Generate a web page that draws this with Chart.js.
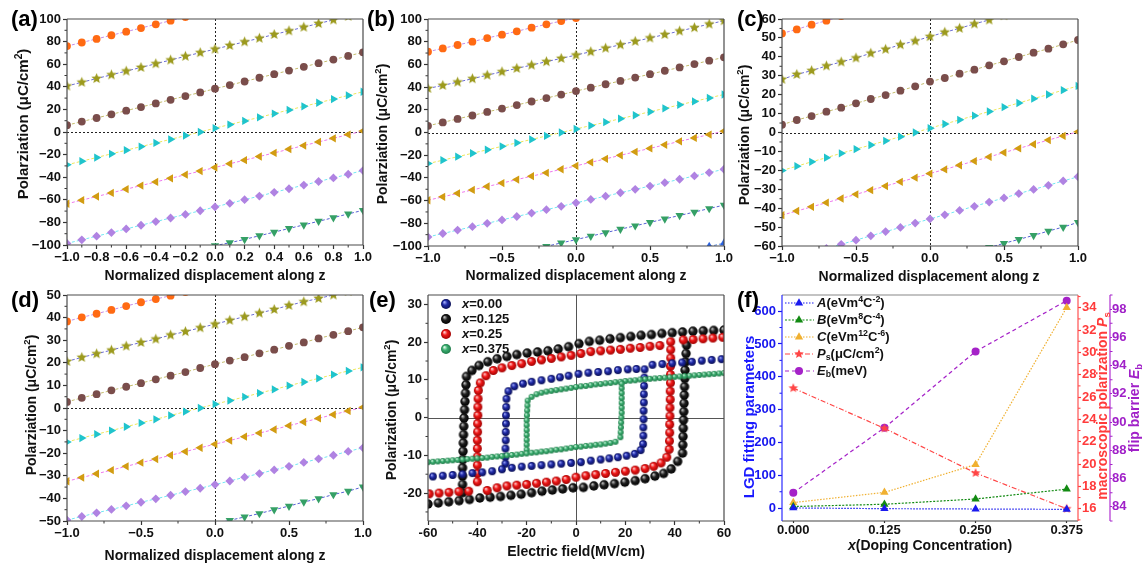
<!DOCTYPE html>
<html>
<head>
<meta charset="utf-8">
<script src="https://cdn.jsdelivr.net/npm/chart.js@4.4.1/dist/chart.umd.min.js"></script>
<style>
  body { margin:0; background:#fff; width:1145px; height:565px; position:relative; overflow:hidden; font-family:'Liberation Sans', Arial, sans-serif; }
  canvas { position:absolute; }
  .lbl { position:absolute; font-weight:bold; font-size:22px; line-height:1; color:#000; z-index:2; }
</style>
</head>
<body>
<canvas id="pa" width="375" height="285" style="left:0;top:0"></canvas>
<canvas id="pb" width="368" height="285" style="left:372px;top:0"></canvas>
<canvas id="pc" width="409" height="285" style="left:736px;top:0"></canvas>
<canvas id="pd" width="375" height="280" style="left:0;top:285px"></canvas>
<canvas id="pe" width="368" height="280" style="left:372px;top:285px"></canvas>
<canvas id="pf" width="409" height="280" style="left:736px;top:285px"></canvas>
<div class="lbl" style="left:11px;top:8px">(a)</div>
<div class="lbl" style="left:367px;top:8px">(b)</div>
<div class="lbl" style="left:737px;top:8px">(c)</div>
<div class="lbl" style="left:11px;top:289px">(d)</div>
<div class="lbl" style="left:369px;top:289px">(e)</div>
<div class="lbl" style="left:737px;top:289px">(f)</div>
<script>
// ---------- data ----------
const _ = null;
const zPos = [-1.0, -0.9, -0.8, -0.7, -0.6, -0.5, -0.4, -0.3, -0.2, -0.1, 0.0, 0.1, 0.2, 0.3, 0.4, 0.5, 0.6, 0.7, 0.8, 0.9, 1.0];

// (a)
const aOrange = [76.0, 79.2, 82.4, 85.6, 88.8, 92.0, 95.3, 98.5, 101.7, _, _, _, _, _, _, _, _, _, _, _, _];
const aStar   = [40.7, 44.0, 47.3, 50.6, 53.9, 57.1, 60.4, 63.7, 67.0, 70.2, 73.3, 76.6, 79.8, 83.0, 86.3, 89.5, 92.8, 96.0, 99.2, 102.4, _];
const aBrown  = [6.0, 9.2, 12.4, 15.6, 18.9, 22.1, 25.3, 28.5, 31.8, 35.0, 38.3, 41.5, 44.7, 48.0, 51.2, 54.4, 57.7, 60.9, 64.1, 67.3, 70.5];
const aCyan   = [-29.0, -25.8, -22.6, -19.3, -16.1, -12.9, -9.7, -6.5, -3.2, 0.0, 3.4, 6.6, 9.8, 13.0, 16.3, 19.5, 22.7, 25.9, 29.1, 32.4, 35.6];
const aGold   = [-63.5, -60.3, -57.1, -53.9, -50.6, -47.4, -44.2, -41.0, -37.8, -34.6, -31.4, -28.1, -24.9, -21.7, -18.5, -15.2, -12.0, -8.8, -5.6, -2.3, 0.9];
const aPurple = [-98.6, -95.4, -92.2, -89.0, -85.8, -82.5, -79.3, -76.1, -72.9, -69.7, -66.3, -63.1, -59.9, -56.7, -53.4, -50.2, -47.0, -43.8, -40.6, -37.4, -34.1];
const aGreen  = [_, _, _, _, _, _, _, _, _, -103.8, -100.6, -98.0, -95.0, -91.8, -88.6, -85.4, -82.2, -79.0, -75.8, -72.5, -69.3];

// (b)
const bOrange = [71.2, 74.1, 77.1, 80.0, 83.2, 86.2, 89.1, 92.4, 95.3, 98.2, 100.8, _, _, _, _, _, _, _, _, _, _];
const bStar   = [38.8, 41.5, 44.4, 47.4, 50.5, 53.5, 56.5, 59.4, 62.4, 65.3, 68.2, 71.2, 74.3, 77.3, 80.3, 83.3, 86.3, 89.4, 92.4, 95.5, 98.5];
const bBrown  = [5.9, 8.9, 12.0, 15.0, 18.1, 21.1, 24.2, 27.3, 30.3, 33.4, 36.5, 39.5, 42.5, 45.4, 48.4, 51.4, 54.4, 57.3, 60.3, 63.3, 66.2];
const bCyan   = [-27.4, -24.4, -21.3, -18.3, -15.2, -12.2, -9.1, -6.1, -3.0, 0.0, 3.1, 6.1, 9.1, 12.2, 15.2, 18.3, 21.3, 24.4, 27.4, 30.5, 33.5];
const bGold   = [-59.7, -56.7, -53.6, -50.6, -47.6, -44.6, -41.5, -38.5, -35.5, -32.4, -29.4, -26.3, -23.2, -20.1, -17.0, -14.0, -10.9, -7.8, -4.8, -1.8, 1.2];
const bPurple = [-92.0, -89.0, -86.0, -83.0, -80.0, -77.0, -74.0, -71.0, -68.0, -65.0, -62.0, -59.0, -56.1, -53.1, -50.1, -47.2, -44.2, -41.2, -38.3, -35.3, -32.4];
const bGreen  = [_, _, _, _, _, _, _, -103.3, -100.3, -97.3, -94.4, -91.3, -88.3, -85.2, -82.2, -79.2, -76.1, -73.1, -70.1, -67.0, -64.0];
const bBlue   = [_, _, _, _, _, _, _, _, _, _, _, _, _, _, _, _, _, _, _, -100.5, -97.5];

// (c)
const cOrange = [52.4, 54.5, 57.0, 59.1, 61.5, _, _, _, _, _, _, _, _, _, _, _, _, _, _, _, _];
const cStar   = [28.1, 30.7, 32.7, 35.2, 37.3, 39.4, 41.9, 44.0, 46.4, 48.4, 50.7, 53.0, 55.1, 57.4, 59.5, 61.8, _, _, _, _, _];
const cBrown  = [4.1, 6.6, 8.7, 11.0, 13.1, 15.4, 17.7, 19.8, 22.1, 24.4, 26.9, 28.8, 31.1, 33.2, 35.5, 37.6, 39.9, 42.2, 44.3, 46.6, 48.9];
const cCyan   = [-20.1, -17.8, -15.5, -13.3, -11.0, -8.8, -6.6, -4.4, -2.2, 0.0, 2.3, 4.5, 6.7, 8.9, 11.1, 13.4, 15.6, 17.9, 20.1, 22.4, 24.6];
const cGold   = [-43.7, -41.5, -39.3, -37.1, -34.9, -32.7, -30.5, -28.3, -26.1, -23.9, -21.7, -19.5, -17.3, -15.1, -12.9, -10.6, -8.4, -6.2, -4.0, -1.8, 0.4];
const cPurple = [_, _, _, -61.3, -59.1, -56.9, -54.6, -52.4, -50.2, -47.9, -45.7, -43.5, -41.2, -39.0, -36.8, -34.6, -32.3, -30.1, -27.9, -25.6, -23.4];
const cGreen  = [_, _, _, _, _, _, _, _, _, _, _, _, _, _, -60.8, -58.6, -56.5, -54.4, -52.1, -50.0, -47.5];

// (d)
const dOrange = [38.3, 40.1, 41.7, 43.4, 45.1, 46.8, 48.2, 49.7, 51.3, _, _, _, _, _, _, _, _, _, _, _, _];
const dStar   = [20.6, 22.4, 24.0, 25.6, 27.4, 29.0, 30.5, 32.3, 33.8, 35.5, 37.1, 38.8, 40.4, 42.0, 43.6, 45.4, 47.0, 48.5, 50.0, 51.6, _];
const dBrown  = [2.7, 4.5, 6.1, 7.8, 9.4, 11.0, 12.7, 14.3, 15.9, 17.7, 19.4, 21.0, 22.5, 24.2, 25.8, 27.5, 29.0, 30.8, 32.4, 34.0, 35.7];
const dCyan   = [-15.0, -13.3, -11.6, -10.0, -8.3, -6.6, -5.0, -3.3, -1.6, 0.0, 1.7, 3.3, 4.9, 6.6, 8.2, 9.9, 11.5, 13.1, 14.8, 16.4, 18.0];
const dGold   = [-32.4, -30.8, -29.1, -27.5, -25.8, -24.2, -22.6, -20.9, -19.3, -17.6, -16.0, -14.4, -12.7, -11.1, -9.5, -7.8, -6.2, -4.6, -2.9, -1.3, 0.3];
const dPurple = [-49.6, -48.0, -46.4, -44.9, -43.3, -41.7, -40.2, -38.6, -37.0, -35.5, -33.9, -32.3, -30.6, -29.0, -27.4, -25.8, -24.1, -22.5, -20.9, -19.2, -17.6];
const dGreen  = [_, _, _, _, _, _, _, _, _, _, -51.3, -49.7, -48.2, -46.7, -45.0, -43.4, -41.6, -40.1, -38.3, -36.8, -34.9];

// (e) hysteresis loops: field (MV/cm) and polarization
const loop000E = [59, 55, 51, 47, 43, 39, 35, 31,
  27.8, 27.7, 27.6, 27.5, 27.5, 27.4, 27.4, 27.3, 27.3, 27.2,
  24.5, 21, 17, 13, 9, 5, 1, -3, -6.5, -10, -14, -18, -21.5, -25, -27.4,
  -28.2, -28.3, -28.4, -28.4, -28.5, -28.5, -28.6, -28.6, -28.6,
  26.2, 23.8, 20.5, 17, 13.5, 10, 6, 2, -2, -6, -10, -14, -18, -22, -26, -30, -34, -38, -42, -46, -50, -54, -58];
const loop000P = [15.5, 15.3, 15.1, 14.8, 14.6, 14.4, 14.2, 14.0,
  12.8, 10.6, 8.4, 6.2, 4.0, 1.8, -0.4, -2.6, -4.8, -7.0,
  12.9, 12.8, 12.6, 12.3, 12.1, 11.9, 11.6, 11.1, 10.7, 10.3, 9.9, 9.5, 9.0, 8.3, 7.0,
  5.0, 2.8, 0.6, -1.6, -3.8, -6.0, -8.2, -10.4, -12.2,
  -8.6, -9.6, -10.1, -10.5, -10.8, -11.1, -11.4, -11.8, -12.0, -12.2, -12.4, -12.6, -12.8, -13.0, -13.3, -13.7, -14.2, -14.5, -14.7, -15.0, -15.2, -15.4, -15.6];

const loop125E = [60, 55.8, 51.6, 47.4, 43.2, 39, 34.8, 30.6, 26.4, 22.2, 18, 13.8, 9.6, 5.4, 1.2, -3, -7.2, -11.4, -15.6, -19.8, -24, -28, -32, -35.8, -39.3, -42.2, -44.4,
  -44.6, -44.8, -45.0, -45.2, -45.4, -45.5, -45.6, -45.7, -45.8, -45.9, -46, -46, -46, -46,
  -60, -55.8, -51.6, -47.4, -43.2, -39, -34.8, -30.6, -26.4, -22.2, -18, -13.8, -9.6, -5.4, -1.2, 3, 7.2, 11.4, 15.6, 19.8, 24, 28, 32, 35.5, 38.6, 41.2,
  43.2, 43.3, 43.4, 43.5, 43.6, 43.7, 43.8, 43.9, 44.0, 44.1, 44.2, 44.4, 44.6, 44.8];
const loop125P = [23.2, 23.1, 23.0, 22.9, 22.7, 22.5, 22.3, 22.0, 21.8, 21.5, 21.2, 20.9, 20.5, 20.2, 19.6, 18.8, 18.2, 17.7, 17.4, 17.1, 16.7, 16.2, 15.6, 14.8, 13.8, 12.5, 10.9,
  8.7, 6.5, 4.3, 2.1, -0.1, -2.3, -4.5, -6.7, -8.9, -11.1, -13.3, -15.5, -17.7, -19.9,
  -22.9, -22.6, -22.3, -22.0, -21.7, -21.3, -21.1, -20.9, -20.6, -20.3, -19.9, -19.5, -19.2, -18.9, -18.6, -18.5, -18.1, -17.8, -17.5, -17.1, -16.7, -16.2, -15.5, -14.8, -13.6, -11.6,
  -9.4, -7.2, -5.0, -2.8, -0.6, 1.6, 3.8, 6.0, 8.2, 10.4, 12.6, 14.8, 17.0, 19.2];

const loop250E = [59.5, 55.5, 51.5, 47.5, 43.5, 34, 30, 26, 22, 18, 14, 10, 6, 2, -2, -6, -10, -14, -18, -22, -26, -30, -33.5, -36.5, -38.8,
  -39.6, -39.7, -39.8, -39.8, -39.9, -39.9, -40, -40, -40, -40, -40, -40,
  -59.5, -55.5, -51.5, -47.5, -43.5, -36, -32, -28, -24, -20, -16, -12, -8, -4, 0, 4, 8, 12, 16, 20, 24, 28, 31.5, 34.5, 36.8,
  37.8, 37.9, 38.0, 38.0, 38.1, 38.1, 38.2, 38.2, 38.3, 38.3, 38.3, 38.4, 38.4, 38.4];
const loop250P = [21.3, 21.1, 20.9, 20.7, 20.6, 19.1, 18.9, 18.6, 18.4, 18.1, 17.9, 17.7, 17.5, 17.0, 16.5, 16.1, 15.7, 15.3, 14.9, 14.3, 13.8, 13.2, 12.5, 11.1, 9.2,
  7.2, 5.0, 2.8, 0.6, -1.6, -3.8, -6.0, -8.2, -10.4, -12.6, -14.8, -17.0,
  -20.2, -20.0, -19.8, -19.6, -19.5, -19.3, -18.6, -18.1, -17.9, -17.7, -17.4, -17.1, -16.8, -16.4, -15.8, -15.4, -15.1, -14.8, -14.5, -14.2, -13.9, -13.5, -12.9, -12.0, -10.5,
  -8.4, -6.2, -4.0, -1.8, 0.4, 2.6, 4.8, 7.0, 9.2, 11.4, 13.6, 15.8, 18.0, 20.1];

const loop375E = [60, 58, 56, 54, 52, 50, 48, 46, 44, 42, 40, 38, 36, 34, 32, 30, 28, 26, 24, 22, 20, 18, 16, 14, 12, 10, 8, 6, 4, 2, 0, -2, -4, -6, -8, -10, -12, -14, -16, -18,
  -19.6, -19.7, -19.8, -19.9, -20, -20, -20, -20, -20, -20, -20,
  -60, -58, -56, -54, -52, -50, -48, -46, -44, -42, -40, -38, -36, -34, -32, -30, -28, -26, -24, -22, -20, -18, -16, -14, -12, -10, -8, -6, -4, -2, 0, 2, 4, 6, 8, 10, 12, 14, 16,
  18.0, 18.1, 18.2, 18.3, 18.4, 18.5, 18.5, 18.5, 18.5, 18.5, 18.5, 18.5];
const loop375P = [11.8, 11.7, 11.6, 11.5, 11.4, 11.3, 11.2, 11.1, 11.0, 10.9, 10.8, 10.7, 10.6, 10.5, 10.4, 10.3, 10.2, 10.1, 9.9, 9.8, 9.7, 9.5, 9.4, 9.2, 9.1, 8.9, 8.8, 8.6, 8.4, 8.3, 8.1, 7.9, 7.7, 7.5, 7.3, 7.1, 6.9, 6.6, 6.2, 5.5,
  4.5, 3.2, 1.9, 0.6, -0.7, -2.0, -3.3, -4.6, -5.9, -7.2, -8.5,
  -11.8, -11.7, -11.6, -11.5, -11.4, -11.3, -11.2, -11.1, -11.0, -10.9, -10.8, -10.7, -10.6, -10.4, -10.3, -10.2, -10.0, -9.9, -9.8, -9.6, -9.5, -9.3, -9.2, -9.0, -8.9, -8.7, -8.5, -8.4, -8.2, -8.0, -7.8, -7.7, -7.5, -7.4, -7.2, -7.1, -6.9, -6.7, -6.4,
  -5.2, -3.9, -2.6, -1.3, 0.0, 1.3, 2.6, 3.9, 5.2, 6.5, 7.8, 9.0];

// (f)
const fDoping = [0, 0.125, 0.25, 0.375];
const fA  = [0.8, -1.5, -2.5, -3.5];
const fB  = [5, 12, 28, 58];
const fC  = [17, 48, 133, 611];
const fPs = [26.8, 23.2, 19.2, 16.0];
const fEb = [85.0, 89.6, 95.0, 98.6];

// tick values
const ticksFine  = [-1, -0.8, -0.6, -0.4, -0.2, 0, 0.2, 0.4, 0.6, 0.8, 1];
const minorFine  = [-0.9, -0.7, -0.5, -0.3, -0.1, 0.1, 0.3, 0.5, 0.7, 0.9];
const ticksHalf  = [-1, -0.5, 0, 0.5, 1];
const minorHalf  = [-0.75, -0.25, 0.25, 0.75];
const ticks100   = [-100, -80, -60, -40, -20, 0, 20, 40, 60, 80, 100];
const minor100   = [-90, -70, -50, -30, -10, 10, 30, 50, 70, 90];
const ticks60    = [-60, -50, -40, -30, -20, -10, 0, 10, 20, 30, 40, 50, 60];
const minor60    = [-55, -45, -35, -25, -15, -5, 5, 15, 25, 35, 45, 55];
const ticks50    = [-50, -40, -30, -20, -10, 0, 10, 20, 30, 40, 50];
const minor50    = [-45, -35, -25, -15, -5, 5, 15, 25, 35, 45];
const eTicksX    = [-60, -40, -20, 0, 20, 40, 60];
const eMinorX    = [-50, -30, -10, 10, 30, 50];
const eTicksY    = [-20, -10, 0, 10, 20, 30];
const eMinorY    = [-25, -15, -5, 5, 15, 25];
const fTicksL    = [0, 100, 200, 300, 400, 500, 600];
const fMinorL    = [50, 150, 250, 350, 450, 550];
const fTicksP    = [16, 18, 20, 22, 24, 26, 28, 30, 32, 34];
const fMinorP    = [15, 17, 19, 21, 23, 25, 27, 29, 31, 33, 35];
const fTicksE    = [84, 86, 88, 90, 92, 94, 96, 98];
const fMinorE    = [83, 85, 87, 89, 91, 93, 95, 97, 99];

// ---------- helpers ----------
const FONT = "'Liberation Sans', Arial, sans-serif";
Chart.defaults.font.family = FONT;
Chart.defaults.font.weight = 'bold';
Chart.defaults.font.size = 13;
Chart.defaults.color = '#111';

const pts = (xs, ys) => xs.map((x, i) => ({x: x, y: ys[i]})).filter(p => p.y !== null);
const numFmt = (dec, minus) => v => {
  const a = Math.abs(v) < 1e-9 ? 0 : v;
  return (a < 0 ? minus : '') + Math.abs(a).toFixed(dec);
};

function starPath(g, r) {
  g.beginPath();
  for (let i = 0; i < 10; i++) {
    const rr = i % 2 ? r * 0.45 : r;
    const a = -Math.PI / 2 + i * Math.PI / 5;
    g.lineTo(rr * Math.cos(a), rr * Math.sin(a));
  }
  g.closePath();
}
function starImg(color, r) {
  const c = document.createElement('canvas');
  const s = Math.ceil(r * 2 + 2);
  c.width = c.height = s;
  const g = c.getContext('2d');
  g.translate(s / 2, s / 2);
  starPath(g, r);
  g.fillStyle = color;
  g.fill();
  return c;
}
function ballImg(base, light, dark, r) {
  const c = document.createElement('canvas');
  const s = Math.ceil(r * 2 + 2);
  c.width = c.height = s;
  const g = c.getContext('2d');
  const m = s / 2;
  const grd = g.createRadialGradient(m - r * 0.35, m - r * 0.4, r * 0.05, m, m, r);
  grd.addColorStop(0, light);
  grd.addColorStop(0.45, base);
  grd.addColorStop(1, dark);
  g.fillStyle = grd;
  g.beginPath();
  g.arc(m, m, r, 0, Math.PI * 2);
  g.fill();
  return c;
}
function drawMarker(ctx, shape, x, y, r, color) {
  ctx.save();
  ctx.fillStyle = color;
  ctx.translate(x, y);
  ctx.beginPath();
  if (shape === 'circle') ctx.arc(0, 0, r, 0, Math.PI * 2);
  else if (shape === 'triangle') { ctx.moveTo(0, -r); ctx.lineTo(r * 0.87, r * 0.5); ctx.lineTo(-r * 0.87, r * 0.5); ctx.closePath(); }
  else if (shape === 'star') starPath(ctx, r);
  ctx.fill();
  ctx.restore();
}

// text with italic / superscript / subscript parts
function drawRich(ctx, parts, x, y, size, color, rot, align) {
  ctx.save();
  ctx.translate(x, y);
  if (rot) ctx.rotate(rot * Math.PI / 180);
  ctx.fillStyle = color || '#111';
  ctx.textBaseline = 'middle';
  ctx.textAlign = 'left';
  const segs = parts.map(([t, f]) => {
    const small = f.includes('u') || f.includes('d');
    const font = (f.includes('i') ? 'italic ' : '') + 'bold ' + (small ? size * 0.68 : size) + 'px ' + FONT;
    ctx.font = font;
    return {t: t, font: font, w: ctx.measureText(t).width,
            dy: f.includes('u') ? -size * 0.3 : f.includes('d') ? size * 0.28 : 0};
  });
  const total = segs.reduce((s, g) => s + g.w, 0);
  let cx = align === 'left' ? 0 : -total / 2;
  for (const g of segs) {
    ctx.font = g.font;
    ctx.fillText(g.t, cx, g.dy);
    cx += g.w;
  }
  ctx.restore();
}

function axis(o) {
  return {
    type: 'linear', position: o.pos, min: o.min, max: o.max, weight: o.weight || 0,
    afterBuildTicks: s => { s.ticks = o.ticks.map(v => ({value: v})); },
    afterFit: s => { if (o.pos === 'bottom') s.height = o.size; else s.width = o.size; },
    ticks: {autoSkip: false, maxRotation: 0, minRotation: 0, padding: o.pad === undefined ? 2 : o.pad,
            color: o.color || '#111', font: {size: 13, weight: 'bold'}, callback: o.fmt},
    grid: {drawOnChartArea: false, drawTicks: true, tickLength: o.tl || 4,
           tickColor: o.tickColor || '#333', tickWidth: 1.2},
    border: {display: false}
  };
}

function deco(d) {
  return {
    id: 'deco',
    beforeDatasetsDraw(chart) {
      if (!d.zero) return;
      const {ctx, chartArea: a, scales} = chart;
      ctx.save();
      ctx.strokeStyle = d.zero.color;
      ctx.lineWidth = 1;
      ctx.setLineDash(d.zero.dash);
      const x0 = Math.round(scales.x.getPixelForValue(0)) + 0.5;
      const y0 = Math.round(scales.y.getPixelForValue(0)) + 0.5;
      ctx.beginPath();
      ctx.moveTo(x0, a.top); ctx.lineTo(x0, a.bottom);
      ctx.moveTo(a.left, y0); ctx.lineTo(a.right, y0);
      ctx.stroke();
      ctx.restore();
    },
    afterDatasetsDraw(chart) {
      const {ctx, chartArea: a, scales} = chart;
      ctx.save();
      for (const m of d.minor) {
        const s = scales[m.id];
        ctx.strokeStyle = m.color || '#333';
        ctx.lineWidth = 1;
        ctx.beginPath();
        for (const v of m.vals) {
          const p = s.getPixelForValue(v);
          if (m.id === 'x') { ctx.moveTo(p, a.bottom); ctx.lineTo(p, a.bottom + 2.5); }
          else if (s.position === 'left') { ctx.moveTo(s.right - 2.5, p); ctx.lineTo(s.right, p); }
          else { ctx.moveTo(s.left, p); ctx.lineTo(s.left + 2.5, p); }
        }
        ctx.stroke();
      }
      const f = d.frame;
      const side = (c, x1, y1, x2, y2) => {
        ctx.strokeStyle = c; ctx.lineWidth = f.w;
        ctx.beginPath(); ctx.moveTo(x1, y1); ctx.lineTo(x2, y2); ctx.stroke();
      };
      side(f.top, a.left, a.top, a.right, a.top);
      side(f.bottom, a.left, a.bottom, a.right, a.bottom);
      side(f.left, a.left, a.top, a.left, a.bottom);
      side(f.right, a.right, a.top, a.right, a.bottom);
      if (d.extraAxis) {
        const s = scales[d.extraAxis.id];
        side(d.extraAxis.color, s.left, a.top, s.left, a.bottom);
      }
      for (const t of d.titles) drawRich(ctx, t.parts, t.x, t.y, t.size, t.color, t.rot, 'center');
      if (d.legend) d.legend(ctx);
      ctx.restore();
    }
  };
}

// ---------- panels (a)-(d) ----------
const looks = [
  {pt: '#ff6a13', ln: '#c48ce8', shape: 'circle'},
  {pt: '#9c9a1e', ln: '#6c6cd6', shape: 'star'},
  {pt: '#7a4d4b', ln: '#c4bc6c', shape: 'circle'},
  {pt: '#20c4cc', ln: '#eee65a', shape: 'right'},
  {pt: '#d29c12', ln: '#ee78ee', shape: 'left'},
  {pt: '#b083e2', ln: '#72e8f2', shape: 'diamond'},
  {pt: '#35a066', ln: '#5660d4', shape: 'down'},
  {pt: '#2a62e0', ln: '#5a8ae0', shape: 'up'}
];
function shapeProps(shape, color) {
  switch (shape) {
    case 'circle': return {pointStyle: 'circle', pointRadius: 3.9};
    case 'star': return {pointStyle: starImg(color, 5.5), pointRadius: 4};
    case 'right': return {pointStyle: 'triangle', pointRotation: 90, pointRadius: 4.8};
    case 'left': return {pointStyle: 'triangle', pointRotation: -90, pointRadius: 4.8};
    case 'down': return {pointStyle: 'triangle', pointRotation: 180, pointRadius: 4.8};
    case 'up': return {pointStyle: 'triangle', pointRotation: 0, pointRadius: 4.8};
    default: return {pointStyle: 'rectRot', pointRadius: 4.4};
  }
}
const Y_TITLE = [['Polarziation (μC/cm', ''], ['2', 'u'], [')', '']];
const X_TITLE = [['Normalized displacement along z', '']];

function linePanel(id, ar, o) {
  const cv = document.getElementById(id);
  const W = cv.width, H = cv.height;
  const sets = o.series.map((vals, k) => Object.assign({
    data: pts(zPos, vals), showLine: true, tension: 0, clip: 0,
    borderColor: looks[k].ln, borderWidth: 1, borderDash: [3, 2],
    pointBackgroundColor: looks[k].pt, pointBorderColor: looks[k].pt, pointBorderWidth: 0
  }, shapeProps(looks[k].shape, looks[k].pt)));
  return new Chart(cv, {
    type: 'scatter',
    data: {datasets: sets},
    options: {
      responsive: false, animation: false, devicePixelRatio: 1, events: [],
      layout: {padding: {left: 0, top: ar.t, right: W - ar.r, bottom: 0}},
      plugins: {legend: {display: false}, tooltip: {enabled: false}},
      scales: {
        x: axis({pos: 'bottom', min: -1, max: 1, ticks: o.xTicks, fmt: numFmt(1, '−'), size: H - ar.b, pad: 1}),
        y: axis({pos: 'left', min: o.yMin, max: o.yMax, ticks: o.yTicks, fmt: numFmt(0, '−'), size: ar.l, pad: 2})
      }
    },
    plugins: [deco({
      zero: {color: '#222', dash: [2, 2]},
      frame: {w: 1.2, top: '#4a4a4a', bottom: '#4a4a4a', left: '#4a4a4a', right: '#4a4a4a'},
      minor: [{id: 'x', vals: o.xMinor}, {id: 'y', vals: o.yMinor}],
      titles: o.titles
    })]
  });
}

linePanel('pa', {l: 67, t: 19, r: 363, b: 245}, {
  series: [aOrange, aStar, aBrown, aCyan, aGold, aPurple, aGreen],
  yMin: -100, yMax: 100, xTicks: ticksFine, xMinor: minorFine, yTicks: ticks100, yMinor: minor100,
  titles: [{parts: X_TITLE, x: 215, y: 276, size: 14}, {parts: Y_TITLE, x: 24, y: 124, size: 15, rot: -90}]
});
linePanel('pb', {l: 56, t: 19, r: 352, b: 246}, {
  series: [bOrange, bStar, bBrown, bCyan, bGold, bPurple, bGreen, bBlue],
  yMin: -100, yMax: 100, xTicks: ticksHalf, xMinor: minorHalf, yTicks: ticks100, yMinor: minor100,
  titles: [{parts: X_TITLE, x: 204, y: 276, size: 14}, {parts: Y_TITLE, x: 11, y: 134, size: 14, rot: -90}]
});
linePanel('pc', {l: 46, t: 19, r: 342, b: 246}, {
  series: [cOrange, cStar, cBrown, cCyan, cGold, cPurple, cGreen],
  yMin: -60, yMax: 60, xTicks: ticksHalf, xMinor: minorHalf, yTicks: ticks60, yMinor: minor60,
  titles: [{parts: X_TITLE, x: 193, y: 277, size: 14}, {parts: Y_TITLE, x: 9, y: 135, size: 14, rot: -90}]
});
linePanel('pd', {l: 67, t: 10, r: 363, b: 236}, {
  series: [dOrange, dStar, dBrown, dCyan, dGold, dPurple, dGreen],
  yMin: -50, yMax: 50, xTicks: ticksHalf, xMinor: minorHalf, yTicks: ticks50, yMinor: minor50,
  titles: [{parts: X_TITLE, x: 215, y: 271, size: 14}, {parts: Y_TITLE, x: 32, y: 120, size: 14, rot: -90}]
});

// ---------- panel (e) ----------
const balls = {
  blue:  ballImg('#1f2aa8', '#a8b2ff', '#0a0f55', 3.9),
  black: ballImg('#202020', '#c8c8c8', '#000000', 4.7),
  red:   ballImg('#f01a1a', '#ffd6d6', '#a00000', 4.5),
  green: ballImg('#3db072', '#eafff0', '#1e7a48', 3.0)
};
const legendBalls = {
  blue:  ballImg('#1f2aa8', '#a8b2ff', '#0a0f55', 5),
  black: ballImg('#202020', '#c8c8c8', '#000000', 5),
  red:   ballImg('#f01a1a', '#ffd6d6', '#a00000', 5),
  green: ballImg('#3db072', '#eafff0', '#1e7a48', 5)
};
const eLegend = [
  {ball: 'blue',  parts: [['x', 'i'], ['=0.00', '']]},
  {ball: 'black', parts: [['x', 'i'], ['=0.125', '']]},
  {ball: 'red',   parts: [['x', 'i'], ['=0.25', '']]},
  {ball: 'green', parts: [['x', 'i'], ['=0.375', '']]}
];
(function () {
  const cv = document.getElementById('pe');
  const W = cv.width, H = cv.height;
  const ar = {l: 56, t: 10, r: 352, b: 236};
  const loopSet = (E, P, key) => ({data: pts(E, P), showLine: false, pointStyle: balls[key], pointRadius: 4});
  new Chart(cv, {
    type: 'scatter',
    data: {datasets: [
      loopSet(loop375E, loop375P, 'green'),
      loopSet(loop000E, loop000P, 'blue'),
      loopSet(loop250E, loop250P, 'red'),
      loopSet(loop125E, loop125P, 'black')
    ]},
    options: {
      responsive: false, animation: false, devicePixelRatio: 1, events: [],
      layout: {padding: {left: 0, top: ar.t, right: W - ar.r, bottom: 0}},
      plugins: {legend: {display: false}, tooltip: {enabled: false}},
      scales: {
        x: axis({pos: 'bottom', min: -60, max: 60, ticks: eTicksX, fmt: numFmt(0, '-'), size: H - ar.b, pad: 1}),
        y: axis({pos: 'left', min: -27.4, max: 32.5, ticks: eTicksY, fmt: numFmt(0, '-'), size: ar.l, pad: 2})
      }
    },
    plugins: [deco({
      zero: {color: '#555', dash: []},
      frame: {w: 1.2, top: '#4a4a4a', bottom: '#4a4a4a', left: '#4a4a4a', right: '#4a4a4a'},
      minor: [{id: 'x', vals: eMinorX}, {id: 'y', vals: eMinorY}],
      titles: [
        {parts: [['Electric field(MV/cm)', '']], x: 204, y: 267, size: 14},
        {parts: [['Polarization (μC/cm', ''], ['2', 'u'], [')', '']], x: 20, y: 125, size: 14, rot: -90}
      ],
      legend: ctx => {
        eLegend.forEach((it, i) => {
          const y = 19 + i * 15;
          const img = legendBalls[it.ball];
          ctx.drawImage(img, 74 - img.width / 2, y - img.height / 2);
          drawRich(ctx, it.parts, 90, y, 13, '#111', 0, 'left');
        });
      }
    })]
  });
})();

// ---------- panel (f) ----------
const fLook = [
  {data: fA,  axis: 'y',  color: '#1a1aee', dash: [1.5, 1.5], shape: 'triangle', r: 4.8, parts: [['A', 'i'], ['(eVm', ''], ['4', 'u'], ['C', ''], ['-2', 'u'], [')', '']]},
  {data: fB,  axis: 'y',  color: '#128a12', dash: [2, 1.5], shape: 'triangle', r: 4.8, parts: [['B', 'i'], ['(eVm', ''], ['8', 'u'], ['C', ''], ['-4', 'u'], [')', '']]},
  {data: fC,  axis: 'y',  color: '#f0b030', dash: [1.5, 1.5], shape: 'triangle', r: 4.8, parts: [['C', 'i'], ['(eVm', ''], ['12', 'u'], ['C', ''], ['-6', 'u'], [')', '']]},
  {data: fPs, axis: 'yP', color: '#ff4545', dash: [5, 2, 1, 2], shape: 'star', r: 5, parts: [['P', 'i'], ['s', 'd'], ['(μC/cm', ''], ['2', 'u'], [')', '']]},
  {data: fEb, axis: 'yE', color: '#a522c8', dash: [4, 3], shape: 'circle', r: 4, parts: [['E', 'i'], ['b', 'd'], ['(meV)', '']]}
];
(function () {
  const cv = document.getElementById('pf');
  const H = cv.height;
  const ar = {l: 46, t: 10, r: 342, b: 236};
  const sets = fLook.map(s => ({
    data: pts(fDoping, s.data), yAxisID: s.axis, showLine: true, tension: 0,
    borderColor: s.color, borderWidth: 1.2, borderDash: s.dash,
    pointStyle: s.shape === 'star' ? starImg(s.color, s.r) : s.shape, pointRadius: s.r,
    pointBackgroundColor: s.color, pointBorderColor: s.color, pointBorderWidth: 0
  }));
  new Chart(cv, {
    type: 'scatter',
    data: {datasets: sets},
    options: {
      responsive: false, animation: false, devicePixelRatio: 1, events: [],
      layout: {padding: {left: 0, top: ar.t, right: 0, bottom: 0}},
      plugins: {legend: {display: false}, tooltip: {enabled: false}},
      scales: {
        x: axis({pos: 'bottom', min: -0.0155, max: 0.3905, ticks: fDoping, fmt: numFmt(3, '-'), size: H - ar.b, pad: 0, tl: 2}),
        y: axis({pos: 'left', min: -39, max: 649, ticks: fTicksL, fmt: numFmt(0, '-'), size: ar.l, pad: 2,
                 color: '#1515ee', tickColor: '#1515ee'}),
        yP: axis({pos: 'right', min: 14.9, max: 35.14, ticks: fTicksP, fmt: numFmt(0, '-'), size: 32, pad: 1, tl: 3,
                  color: '#ff3b3b', tickColor: '#ff3b3b', weight: 0}),
        yE: axis({pos: 'right', min: 83, max: 99, ticks: fTicksE, fmt: numFmt(0, '-'), size: 35, pad: 0, tl: 2,
                  color: '#a020c8', tickColor: '#a020c8', weight: 1})
      }
    },
    plugins: [deco({
      frame: {w: 1.2, top: '#888', bottom: '#444', left: '#2a2aff', right: '#ff5050'},
      extraAxis: {id: 'yE', color: '#b030d0'},
      minor: [{id: 'y', vals: fMinorL, color: '#1515ee'}, {id: 'yP', vals: fMinorP, color: '#ff3b3b'}, {id: 'yE', vals: fMinorE, color: '#a020c8'}],
      titles: [
        {parts: [['x', 'i'], ['(Doping Concentration)', '']], x: 194, y: 261, size: 14},
        {parts: [['LGD fitting parameters', '']], x: 14, y: 132, size: 15, color: '#1a1aff', rot: -90},
        {parts: [['macroscopic polarization ', ''], ['P', 'i'], ['s', 'd']], x: 367, y: 121, size: 14, color: '#ff3b3b', rot: -90},
        {parts: [['flip barrier ', ''], ['E', 'i'], ['b', 'd']], x: 399, y: 123, size: 14, color: '#a020c8', rot: -90}
      ],
      legend: ctx => {
        fLook.forEach((s, i) => {
          const y = 18 + i * 17;
          ctx.save();
          ctx.strokeStyle = s.color; ctx.lineWidth = 1.2; ctx.setLineDash(s.dash);
          ctx.beginPath(); ctx.moveTo(49, y); ctx.lineTo(78, y); ctx.stroke();
          ctx.restore();
          drawMarker(ctx, s.shape, 63, y, s.r, s.color);
          drawRich(ctx, s.parts, 81, y, 13, '#111', 0, 'left');
        });
      }
    })]
  });
})();
</script>
</body>
</html>
